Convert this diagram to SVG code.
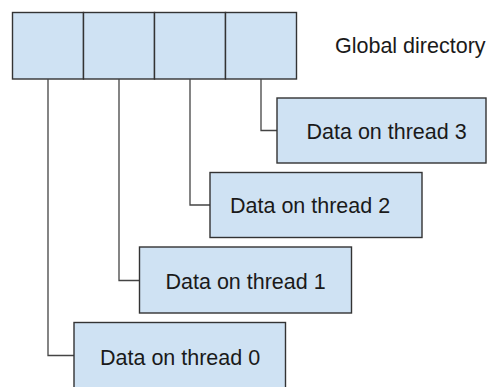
<svg xmlns="http://www.w3.org/2000/svg" width="487" height="387" viewBox="0 0 487 387">
  <style>
    .cell, .box { fill: #cfe2f3; stroke: #333333; stroke-width: 1.4; }
    .wire { fill: none; stroke: #444444; stroke-width: 1.3; }
    .label { font-family: "Liberation Sans", Arial, sans-serif; font-size: 21.5px; fill: #1a1a1a; }
  </style>
  <rect width="487" height="387" fill="#ffffff"/>

  <!-- Global directory: four slots -->
  <g id="directory">
    <rect class="cell" x="12.5" y="12.5" width="71" height="66.5"/>
    <rect class="cell" x="83.5" y="12.5" width="71" height="66.5"/>
    <rect class="cell" x="154.5" y="12.5" width="71" height="66.5"/>
    <rect class="cell" x="225.5" y="12.5" width="71" height="66.5"/>
  </g>
  <g id="directory-label">
    <text class="label" x="335" y="53">Global directory</text>
  </g>

  <!-- Elbow connectors from each slot to its thread's data -->
  <g id="connectors">
    <polyline class="wire" points="48,79 48,355.5 74,355.5"/>
    <polyline class="wire" points="119,79 119,280.5 139.5,280.5"/>
    <polyline class="wire" points="190,79 190,205 210,205"/>
    <polyline class="wire" points="261,79 261,130.5 277,130.5"/>
  </g>

  <g id="thread3">
    <rect class="box" x="277" y="98" width="209" height="65"/>
    <text class="label" x="306.5" y="138.5">Data on thread 3</text>
  </g>
  <g id="thread2">
    <rect class="box" x="210" y="172.5" width="212" height="65"/>
    <text class="label" x="230" y="213">Data on thread 2</text>
  </g>
  <g id="thread1">
    <rect class="box" x="139.5" y="247" width="212" height="66"/>
    <text class="label" x="165.5" y="289">Data on thread 1</text>
  </g>
  <g id="thread0">
    <rect class="box" x="74" y="322.5" width="211.5" height="70"/>
    <text class="label" x="100" y="364.5">Data on thread 0</text>
  </g>
</svg>
